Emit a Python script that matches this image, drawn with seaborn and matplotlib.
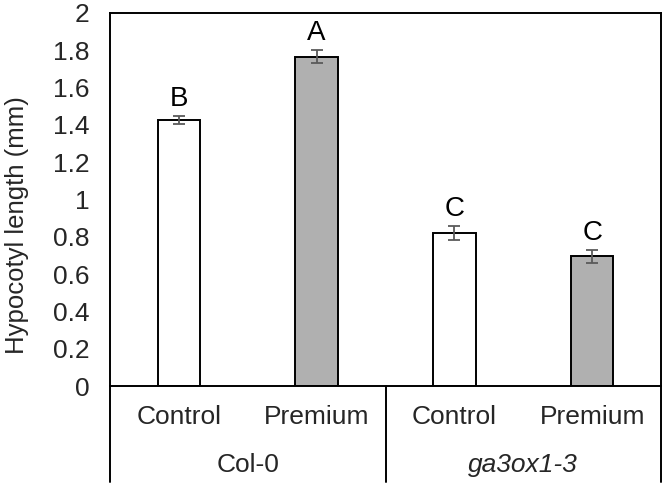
import numpy as np
import pandas as pd
import matplotlib
matplotlib.use("Agg")
import matplotlib.pyplot as plt
import seaborn as sns

# values
genotypes = ["Col-0", "Col-0", "ga3ox1-3", "ga3ox1-3"]
treatments = ["Control", "Premium", "Control", "Premium"]
means = [1.425, 1.766, 0.820, 0.695]
sems = [0.022, 0.033, 0.037, 0.034]
letters = ["B", "A", "C", "C"]
group_names = ["Col-0", "ga3ox1-3"]
yticks = [0, 0.2, 0.4, 0.6, 0.8, 1, 1.2, 1.4, 1.6, 1.8, 2]
ytick_labels = ["0", "0.2", "0.4", "0.6", "0.8", "1", "1.2", "1.4", "1.6", "1.8", "2"]

df = pd.DataFrame({
    "bar": [f"{g} {t}" for g, t in zip(genotypes, treatments)],
    "genotype": genotypes,
    "treatment": treatments,
    "length": means,
})

sns.set_style("white")
plt.rcParams["font.family"] = ["Liberation Sans", "DejaVu Sans"]

fig = plt.figure(figsize=(6.66, 4.86), dpi=100)
ax = fig.add_axes([110 / 666, 1 - 386 / 486, 551 / 666, 373 / 486])

sns.barplot(data=df, x="bar", y="length", hue="treatment",
            palette={"Control": "white", "Premium": "#b0b0b0"},
            edgecolor="black", linewidth=1.4, width=0.31,
            errorbar=None, legend=False, ax=ax)

ax.errorbar(np.arange(len(means)), means, yerr=sems, fmt="none",
            ecolor="#5a5a5a", elinewidth=1.3, capsize=4.3, capthick=1.3)

for i, (m, s, lab) in enumerate(zip(means, sems, letters)):
    ax.annotate(lab, xy=(i, m + s), xytext=(0, 7.5), textcoords="offset points",
                ha="center", va="baseline", fontsize=20, color="black")

ax.set_ylim(0, 2)
ax.set_xlim(-0.5, 3.5)
ax.set_yticks(yticks)
ax.set_yticklabels(ytick_labels)
ax.tick_params(axis="y", direction="in", length=6.5, width=1.2, labelsize=19, pad=15)
ax.tick_params(axis="x", length=0, labelbottom=False)
ax.set_xlabel("")
ax.set_ylabel("Hypocotyl length (mm)", fontsize=18.5)
ax.yaxis.set_label_coords(-0.147, 0.432)

for sp in ax.spines.values():
    sp.set_visible(True)
    sp.set_color("black")
    sp.set_linewidth(1.4)

# two level category axis
for i, t in enumerate(treatments):
    ax.text((i + 0.5) / 4, -0.083, t, transform=ax.transAxes,
            ha="center", va="center", fontsize=19)
for j, g in enumerate(group_names):
    style = "italic" if j == 1 else "normal"
    ax.text((j + 0.5) / 2, -0.212, g, transform=ax.transAxes,
            ha="center", va="center", fontsize=19, style=style)
for xs in [0, 0.5, 1]:
    ax.plot([xs, xs], [0, -0.257], transform=ax.transAxes, color="black",
            lw=1.4, clip_on=False)

fig.savefig("out.png", dpi=100)
